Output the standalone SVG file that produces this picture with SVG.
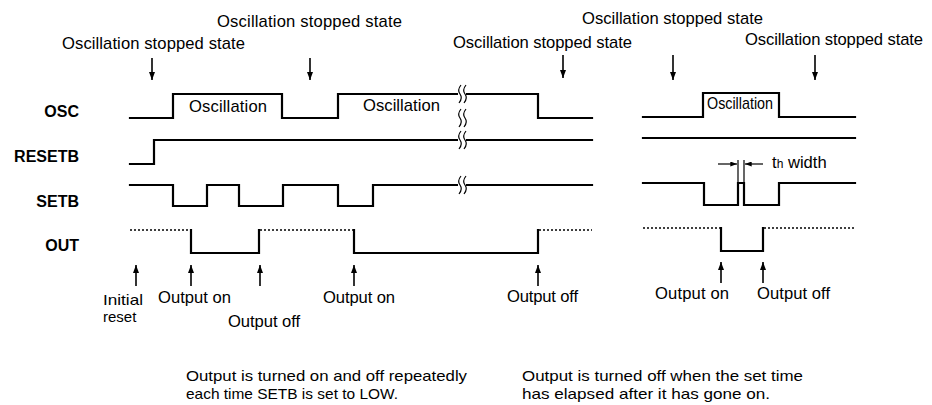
<svg xmlns="http://www.w3.org/2000/svg" width="932" height="405" viewBox="0 0 932 405">
<style>
text{font-family:"Liberation Sans",Arial,sans-serif;font-size:16.6px;fill:#000}
.sig{font-weight:bold;font-size:16px;text-anchor:end}
.sm{font-size:15px}
.w{fill:none;stroke:#000;stroke-width:2.2;stroke-linejoin:miter;stroke-linecap:square}
.dot{fill:none;stroke:#000;stroke-width:1.3;stroke-dasharray:2 2}
.arr{fill:none;stroke:#000;stroke-width:1.6}
.thin{fill:none;stroke:#000;stroke-width:1.2}
</style>
<defs>
<marker id="ah" viewBox="0 0 8 6" refX="8" refY="3" markerWidth="8" markerHeight="6" orient="auto" markerUnits="userSpaceOnUse"><path d="M0,0 L8,3 L0,6 z" fill="#000"/></marker>
<marker id="ahs" viewBox="0 0 8 6" refX="8" refY="3" markerWidth="7" markerHeight="5" orient="auto" markerUnits="userSpaceOnUse"><path d="M0,0 L8,3 L0,6 z" fill="#000"/></marker>
<g id="brk"><rect x="-4" y="-4" width="8" height="8" fill="#fff"/><path d="M-1,-9 Q-5,-4 -2,0 Q1,4 -3,9 M4,-9 Q0,-4 3,0 Q6,4 2,9" fill="none" stroke="#000" stroke-width="1.2"/></g>
</defs>
<rect width="932" height="405" fill="#fff"/>

<g id="signal-labels">
<text class="sig" x="79" y="117">OSC</text>
<text class="sig" x="79" y="162">RESETB</text>
<text class="sig" x="79" y="207">SETB</text>
<text class="sig" x="79" y="251">OUT</text>
</g>

<g id="osc">
<path class="w" d="M130,118 H173 V94 H282 V118 H338 V94 H538 V118 H592"/>
<path class="w" d="M643,117 H703 V93 H779 V117 H855"/>
<text x="189" y="112" textLength="78">Oscillation</text>
<text x="363" y="111" textLength="77">Oscillation</text>
<text x="707" y="109" textLength="66" lengthAdjust="spacingAndGlyphs">Oscillation</text>
</g>

<g id="resetb">
<path class="w" d="M130,164 H154 V140 H592"/>
<path class="w" d="M643,138 H855"/>
</g>

<g id="setb">
<path class="w" d="M130,185 H173 V206 H207 V185 H239 V206 H283 V185 H338 V206 H373 V185 H592"/>
<path class="w" d="M643,183 H704 V205 H738 V183 H744 V205 H779 V183 H855"/>
</g>

<g id="out">
<path class="dot" d="M130,230 H190 M260,230 H353 M539,230 H592"/>
<path class="w" d="M191,230 V253 H259 V230"/>
<path class="w" d="M354,230 V253 H538 V230"/>
<path class="dot" d="M643,228 H720 M764,228 H855"/>
<path class="w" d="M721,228 V251 H763 V228"/>
</g>

<g id="breaks">
<use href="#brk" x="462" y="94"/>
<use href="#brk" x="462" y="118"/>
<use href="#brk" x="462" y="140"/>
<use href="#brk" x="462" y="185"/>
</g>

<g id="connectors">
<line class="arr" x1="152" y1="58" x2="152" y2="80" marker-end="url(#ah)"/>
<line class="arr" x1="310" y1="58" x2="310" y2="80" marker-end="url(#ah)"/>
<line class="arr" x1="563" y1="55" x2="563" y2="78" marker-end="url(#ah)"/>
<line class="arr" x1="673" y1="55" x2="673" y2="80" marker-end="url(#ah)"/>
<line class="arr" x1="815" y1="55" x2="815" y2="80" marker-end="url(#ah)"/>

<line class="arr" x1="136" y1="286" x2="136" y2="265" marker-end="url(#ah)"/>
<line class="arr" x1="191" y1="286" x2="191" y2="265" marker-end="url(#ah)"/>
<line class="arr" x1="260" y1="286" x2="260" y2="265" marker-end="url(#ah)"/>
<line class="arr" x1="354" y1="286" x2="354" y2="265" marker-end="url(#ah)"/>
<line class="arr" x1="538" y1="286" x2="538" y2="265" marker-end="url(#ah)"/>
<line class="arr" x1="721" y1="283" x2="721" y2="262" marker-end="url(#ah)"/>
<line class="arr" x1="763" y1="283" x2="763" y2="262" marker-end="url(#ah)"/>

<line class="thin" x1="738" y1="160" x2="738" y2="183"/>
<line class="thin" x1="744" y1="160" x2="744" y2="183"/>
<line class="thin" x1="718" y1="164" x2="737" y2="164" marker-end="url(#ahs)"/>
<line class="thin" x1="763" y1="164" x2="745" y2="164" marker-end="url(#ahs)"/>
</g>

<g id="annotations">
<text x="62" y="49" textLength="183">Oscillation stopped state</text>
<text x="217" y="27" textLength="185">Oscillation stopped state</text>
<text x="453" y="48" textLength="179">Oscillation stopped state</text>
<text x="582" y="24" textLength="181">Oscillation stopped state</text>
<text x="745" y="45" textLength="178">Oscillation stopped state</text>

<text x="772" y="168">t<tspan font-size="12">h</tspan> width</text>

<text class="sm" x="103" y="305" textLength="40" lengthAdjust="spacingAndGlyphs">Initial</text>
<text class="sm" x="103" y="322">reset</text>
<text x="158" y="303" textLength="73">Output on</text>
<text x="228" y="327" textLength="72">Output off</text>
<text x="323" y="303" textLength="72">Output on</text>
<text x="507" y="302" textLength="71">Output off</text>
<text x="655" y="299" textLength="74">Output on</text>
<text x="757" y="299" textLength="73">Output off</text>

<text class="sm" x="186" y="381" textLength="281" lengthAdjust="spacingAndGlyphs">Output is turned on and off repeatedly</text>
<text class="sm" x="186" y="399" textLength="212" lengthAdjust="spacingAndGlyphs">each time SETB is set to LOW.</text>
<text class="sm" x="522" y="381" textLength="281" lengthAdjust="spacingAndGlyphs">Output is turned off when the set time</text>
<text class="sm" x="522" y="399" textLength="248" lengthAdjust="spacingAndGlyphs">has elapsed after it has gone on.</text>
</g>
</svg>
